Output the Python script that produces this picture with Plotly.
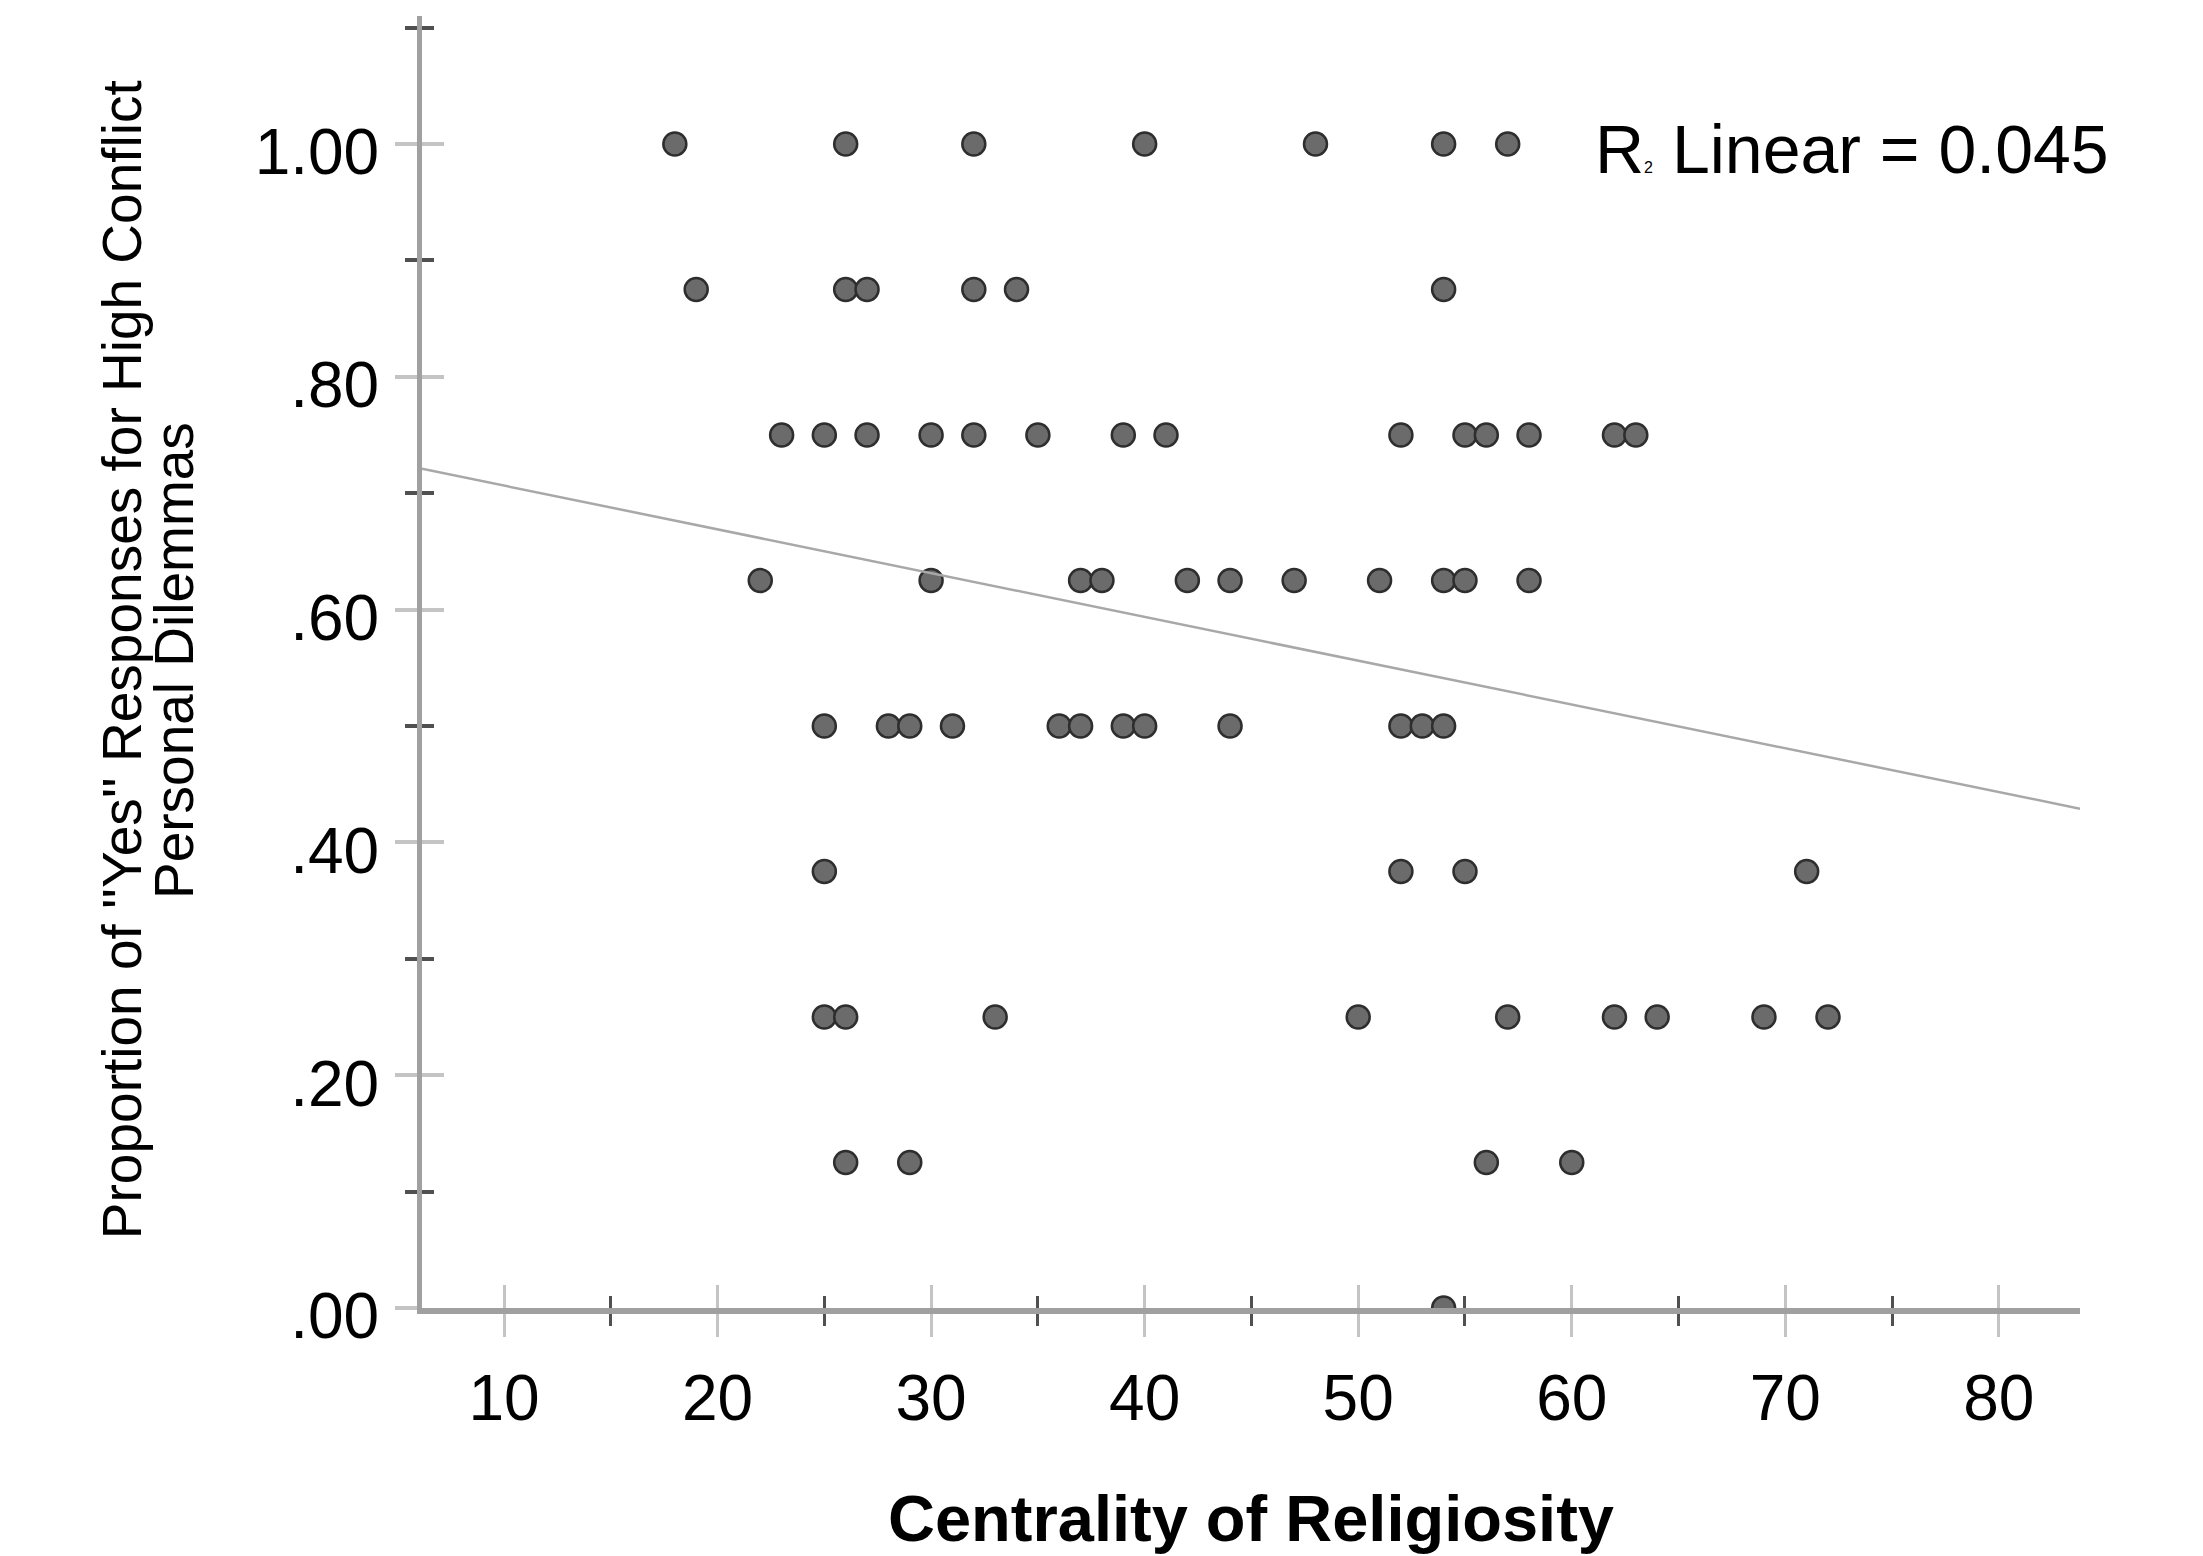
import plotly.graph_objects as go

# Data
centrality = [
    18, 26, 32, 40, 48, 54, 57,                                  # 1.00
    19, 26, 27, 32, 34, 54,                                      # .875
    23, 25, 27, 30, 32, 35, 39, 41, 52, 55, 56, 58, 62, 63,      # .75
    22, 30, 37, 38, 42, 44, 47, 51, 54, 55, 58,                  # .625
    25, 28, 29, 31, 36, 37, 39, 40, 44, 52, 53, 54,              # .50
    25, 52, 55, 71,                                              # .375
    25, 26, 33, 50, 57, 62, 64, 69, 72,                          # .25
    26, 29, 56, 60,                                              # .125
    54,                                                          # .00
]
proportion_yes = (
    [1.0] * 7 + [0.875] * 6 + [0.75] * 14 + [0.625] * 11 + [0.5] * 12
    + [0.375] * 4 + [0.25] * 9 + [0.125] * 4 + [0.0] * 1
)

# Linear fit line endpoints
fit_x = [6.16, 83.8]
fit_y = [0.721, 0.429]

x_range = [6.16, 83.8]
y_range = [0.0, 1.11]
x_tickvals = [10, 20, 30, 40, 50, 60, 70, 80]
x_ticktext = ["10", "20", "30", "40", "50", "60", "70", "80"]
y_tickvals = [0.0, 0.2, 0.4, 0.6, 0.8, 1.0]
y_ticktext = [".00", ".20", ".40", ".60", ".80", "1.00"]

r2_text = "R<span style='font-size:16px'>2</span> Linear = 0.045"
x_title = "Centrality of Religiosity"
y_title_1 = "Proportion of ''Yes'' Responses for High Conflict"
y_title_2 = "Personal Dilemmas"

FONT = "Liberation Sans, Arial, sans-serif"
AXIS_GRAY = "#a0a0a0"
MAJOR_GRAY = "#c4c4c4"
MINOR_DARK = "#505050"

fig = go.Figure()

fig.add_trace(go.Scatter(
    x=centrality, y=proportion_yes, mode="markers",
    marker=dict(symbol="circle", size=23, color="#6b6b6b",
                line=dict(color="#2e2e2e", width=2.5)),
    xaxis="x", yaxis="y", showlegend=False, hoverinfo="x+y",
))

fig.add_trace(go.Scatter(
    x=fit_x, y=fit_y, mode="lines",
    line=dict(color="#a8a8a8", width=2.5),
    xaxis="x2", yaxis="y2", showlegend=False, hoverinfo="skip",
))

common_x = dict(
    range=x_range, tickmode="array", tickvals=x_tickvals, ticktext=x_ticktext,
    ticklen=23, tickwidth=2.5, tickcolor=MAJOR_GRAY,
    minor=dict(tick0=0, dtick=5, ticklen=12, tickwidth=2.5, tickcolor=MINOR_DARK),
    showgrid=False, zeroline=False,
)
common_y = dict(
    range=y_range, tickmode="array", tickvals=y_tickvals, ticktext=y_ticktext,
    ticklen=22, tickwidth=4, tickcolor=MAJOR_GRAY,
    minor=dict(tick0=0, dtick=0.1, ticklen=12, tickwidth=4, tickcolor=MINOR_DARK),
    showgrid=False, zeroline=False,
)

xaxis = dict(common_x)
xaxis.update(ticks="outside", showline=True, linecolor=AXIS_GRAY, linewidth=6,
             tickfont=dict(family=FONT, size=64, color="black"),
             ticklabelstandoff=6)
xaxis["minor"] = dict(common_x["minor"], ticks="outside")

yaxis = dict(common_y)
yaxis.update(ticks="outside", showline=True, linecolor=AXIS_GRAY, linewidth=5,
             tickfont=dict(family=FONT, size=64, color="black"),
             ticklabelstandoff=3, ticklabelshift=8)
yaxis["minor"] = dict(common_y["minor"], ticks="outside")

xaxis2 = dict(common_x)
xaxis2.update(ticks="inside", showline=False, showticklabels=False,
              overlaying="x", anchor="y2", side="bottom")
xaxis2["minor"] = dict(common_x["minor"], ticks="inside")

yaxis2 = dict(common_y)
yaxis2.update(ticks="inside", showline=False, showticklabels=False,
              overlaying="y", anchor="x2", side="left")
yaxis2["minor"] = dict(common_y["minor"], ticks="inside")

fig.update_layout(
    width=2195, height=1548,
    margin=dict(l=414, r=123, t=8, b=248),
    paper_bgcolor="white", plot_bgcolor="white",
    showlegend=False,
    xaxis=xaxis, yaxis=yaxis, xaxis2=xaxis2, yaxis2=yaxis2,
    font=dict(family=FONT, color="black"),
)

fig.add_annotation(
    text=r2_text, xref="paper", yref="y", x=0.7064, y=1.0, yshift=-5,
    xanchor="left", yanchor="middle", showarrow=False,
    font=dict(family=FONT, size=68, color="black"),
)
fig.add_annotation(
    text="<b>" + x_title + "</b>", xref="paper", yref="paper", x=0.5, y=-0.163,
    xanchor="center", yanchor="middle", showarrow=False,
    font=dict(family=FONT, size=65, color="black"),
)
fig.add_annotation(
    text=y_title_1, xref="paper", yref="paper", x=-0.1809, y=0.5015,
    xanchor="center", yanchor="middle", showarrow=False, textangle=-90,
    font=dict(family=FONT, size=55, color="black"),
)
fig.add_annotation(
    text=y_title_2, xref="paper", yref="paper", x=-0.1496, y=0.5015,
    xanchor="center", yanchor="middle", showarrow=False, textangle=-90,
    font=dict(family=FONT, size=55, color="black"),
)

fig.write_html("out.html")
